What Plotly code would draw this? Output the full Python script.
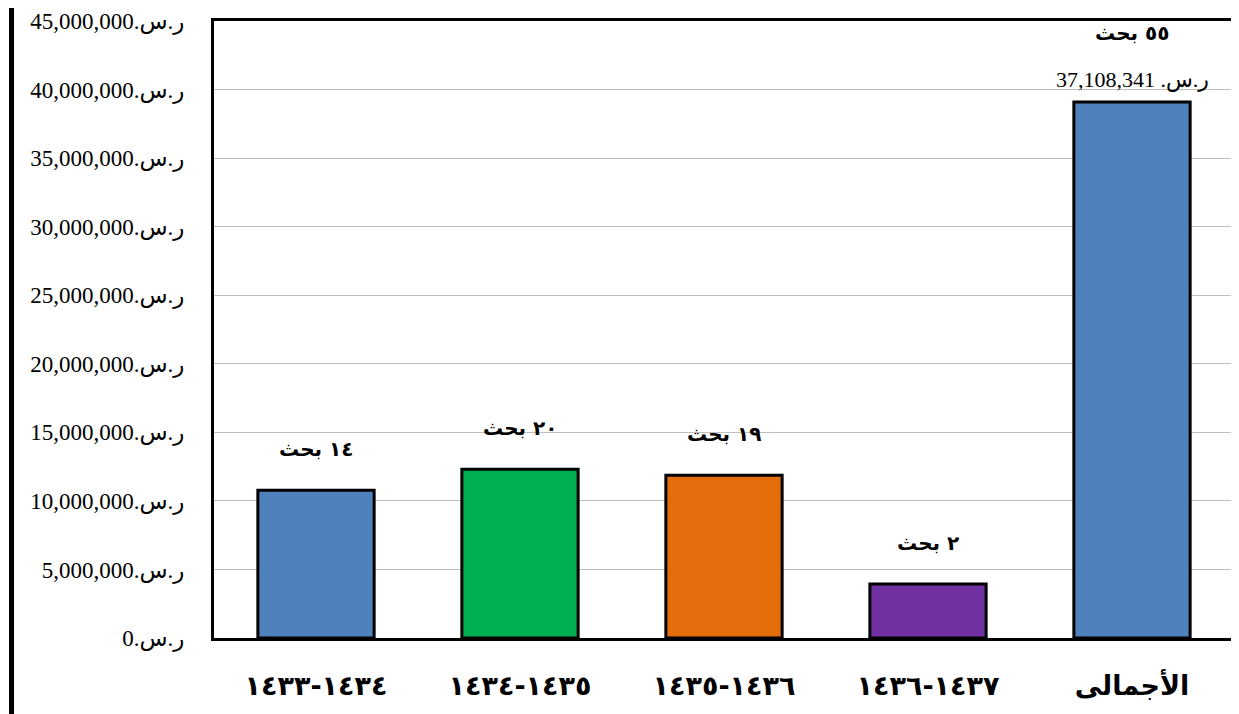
import plotly.graph_objects as go

categories = ["١٤٣٣\u200e-\u200e١٤٣٤", "١٤٣٤\u200e-\u200e١٤٣٥", "١٤٣٥\u200e-\u200e١٤٣٦", "١٤٣٦\u200e-\u200e١٤٣٧", "الأجمالى"]
amounts = [10780000, 12310000, 11870000, 3930000, 39100000]
colors = ["#4F81BD", "#00B050", "#E46C0A", "#7030A0", "#4F81BD"]
count_labels = ["١٤ بحث", "٢٠ بحث", "١٩ بحث", "٢ بحث", "٥٥ بحث"]
total_label = "37,108,341\u00a0ر.س.\u200f"
tick_vals = [0, 5000000, 10000000, 15000000, 20000000, 25000000, 30000000, 35000000, 40000000, 45000000]
tick_text = ["{:,}ر.س.\u200f".format(v) for v in tick_vals]

fig = go.Figure()
fig.add_trace(go.Bar(
    x=categories, y=amounts,
    marker=dict(color=colors, line=dict(color="black", width=3)),
    width=0.57,
))

annotations = []
for i, (c, v, t) in enumerate(zip(categories, amounts, count_labels)):
    shift = 27 if i < 4 else 55
    annotations.append(dict(x=c, y=v, text="<b>" + t + "</b>", showarrow=False, yanchor="bottom", yshift=shift,
                            font=dict(family="DejaVu Sans", size=20, color="black")))
annotations.append(dict(x=categories[4], y=amounts[4], text=total_label, showarrow=False, yanchor="bottom", yshift=7,
                        font=dict(family="Liberation Serif, DejaVu Sans", size=22, color="black")))

fig.update_layout(
    width=1239, height=714,
    margin=dict(l=206, r=13, t=13, b=84, autoexpand=False),
    paper_bgcolor="white", plot_bgcolor="white",
    showlegend=False,
    annotations=annotations,
    xaxis=dict(showline=True, linecolor="black", linewidth=3, mirror=True, automargin=False,
               tickvals=categories, ticktext=["<b>" + c + "</b>" for c in categories],
               tickfont=dict(family="DejaVu Sans", size=27, color="black"), ticks="", ticklen=0,
               ticklabelstandoff=22),
    yaxis=dict(range=[0, 45000000], tickvals=tick_vals, ticktext=tick_text, automargin=False,
               showline=True, linecolor="black", linewidth=3, mirror=True,
               gridcolor="#BFBFBF", gridwidth=1, zeroline=False,
               tickfont=dict(family="Liberation Serif, DejaVu Sans", size=23, color="black"), ticks="", ticklen=0,
               ticklabelstandoff=22),
    shapes=[dict(type="line", xref="paper", yref="paper", x0=-0.1985, x1=-0.1985, y0=-0.3, y1=1.1,
                 line=dict(color="black", width=5))],
)

fig.write_html("out.html")
